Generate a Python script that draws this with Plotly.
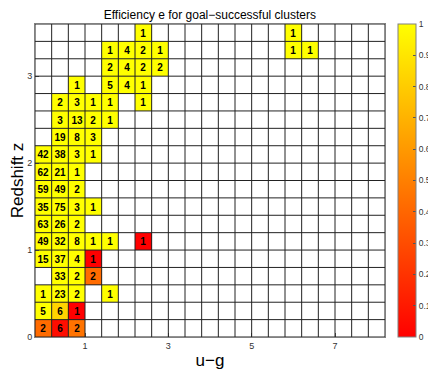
import numpy as np
import plotly.graph_objects as go

# bin geometry (u-g bins of 0.4, redshift bins of 0.2)
ug_centers = [round(0.4 * i, 1) for i in range(21)]
z_centers = [round(0.2 * j + 0.1, 1) for j in range(18)]

# populated cells: u-g bin index, z bin index, cluster count, efficiency
cell_ug = [0, 1, 2,
           0, 1, 2,
           0, 1, 2, 4,
           1, 2, 3,
           0, 1, 2, 3,
           0, 1, 2, 3, 4, 6,
           0, 1, 2,
           0, 1, 2, 3,
           0, 1, 2,
           0, 1, 2,
           0, 1, 2, 3,
           1, 2, 3,
           1, 2, 3, 4,
           1, 2, 3, 4, 6,
           2, 4, 5, 6,
           4, 5, 6, 7,
           4, 5, 6, 7, 15, 16,
           6, 15]
cell_z = [0, 0, 0,
          1, 1, 1,
          2, 2, 2, 2,
          3, 3, 3,
          4, 4, 4, 4,
          5, 5, 5, 5, 5, 5,
          6, 6, 6,
          7, 7, 7, 7,
          8, 8, 8,
          9, 9, 9,
          10, 10, 10, 10,
          11, 11, 11,
          12, 12, 12, 12,
          13, 13, 13, 13, 13,
          14, 14, 14, 14,
          15, 15, 15, 15,
          16, 16, 16, 16, 16, 16,
          17, 17]
cell_n = [2, 6, 2,
          5, 6, 1,
          1, 23, 2, 1,
          33, 2, 2,
          15, 37, 4, 1,
          49, 32, 8, 1, 1, 1,
          63, 26, 2,
          35, 75, 3, 1,
          59, 49, 2,
          62, 21, 1,
          42, 38, 3, 1,
          19, 8, 3,
          3, 13, 2, 1,
          2, 3, 1, 1, 1,
          1, 5, 4, 1,
          2, 4, 2, 2,
          1, 4, 2, 1, 1, 1,
          1, 1]
cell_eff = [0.42, 0.05, 0.45,
            1, 0.83, 0,
            1, 1, 1, 1,
            1, 1, 0.42,
            1, 1, 1, 0,
            1, 1, 1, 1, 1, 0,
            1, 1, 1,
            1, 1, 1, 1,
            1, 1, 1,
            1, 1, 1,
            1, 1, 1, 1,
            1, 1, 1,
            1, 1, 1, 1,
            1, 1, 1, 1, 1,
            1, 1, 1, 1,
            1, 1, 1, 1,
            1, 1, 1, 1, 1, 1,
            1, 1]

eff = np.full((len(z_centers), len(ug_centers)), np.nan)
labels = [["" for _ in ug_centers] for _ in z_centers]
for i, j, n, e in zip(cell_ug, cell_z, cell_n, cell_eff):
    eff[j, i] = e
    labels[j][i] = str(n)

fig = go.Figure()

fig.add_trace(
    go.Heatmap(
        x=ug_centers,
        y=z_centers,
        z=eff,
        text=labels,
        texttemplate="<b>%{text}</b>",
        textfont=dict(family="Liberation Sans", size=10, color="black"),
        colorscale=[[0, "#ff0000"], [1, "#ffff00"]],
        zmin=0,
        zmax=1,
        hoverongaps=False,
        colorbar=dict(
            x=1.036,
            xanchor="left",
            xpad=0,
            y=0,
            yanchor="bottom",
            ypad=0,
            len=1,
            thickness=18,
            outlinecolor="#808080",
            outlinewidth=1,
            tickvals=[round(0.1 * k, 1) for k in range(11)],
            ticks="inside",
            ticklen=3,
            tickcolor="#555",
            tickfont=dict(size=8.5, color="#333"),
        ),
    )
)

# cell borders
x_edges = [round(-0.2 + 0.4 * k, 1) for k in range(22)]
y_edges = [round(0.2 * k, 1) for k in range(19)]
for xe in x_edges:
    fig.add_shape(type="line", x0=xe, x1=xe, y0=0, y1=3.6,
                  line=dict(color="#222", width=1), layer="above")
for ye in y_edges:
    fig.add_shape(type="line", x0=-0.2, x1=8.2, y0=ye, y1=ye,
                  line=dict(color="#222", width=1), layer="above")

# page body adds ~8px offset, margins compensate for it
fig.update_layout(
    title=dict(
        text="Efficiency e for goal\u2212successful clusters",
        font=dict(family="Liberation Sans", size=12, color="black"),
        x=0.463,
        xanchor="center",
        y=0.981,
        yanchor="middle",
    ),
    xaxis=dict(
        range=[-0.2, 8.2],
        tickvals=[1, 3, 5, 7],
        ticks="inside",
        ticklen=4,
        tickcolor="#555",
        tickfont=dict(size=9, color="#333"),
        showgrid=False,
        zeroline=False,
        showline=True,
        linecolor="#808080",
        mirror=True,
        automargin=False,
        title=dict(text="u\u2212g", font=dict(size=17, color="black"), standoff=4),
    ),
    yaxis=dict(
        range=[0, 3.6],
        tickvals=[0, 1, 2, 3],
        ticks="inside",
        ticklen=4,
        tickcolor="#555",
        tickfont=dict(size=9, color="#333"),
        showgrid=False,
        zeroline=False,
        showline=True,
        linecolor="#808080",
        mirror=True,
        automargin=False,
        title=dict(text="Redshift z", font=dict(size=17, color="black"), standoff=4),
    ),
    font=dict(family="Liberation Sans"),
    margin=dict(l=27, r=59, t=16, b=42, autoexpand=False),
    plot_bgcolor="white",
    paper_bgcolor="white",
    width=436,
    height=371,
)

fig.write_html("out.html")
